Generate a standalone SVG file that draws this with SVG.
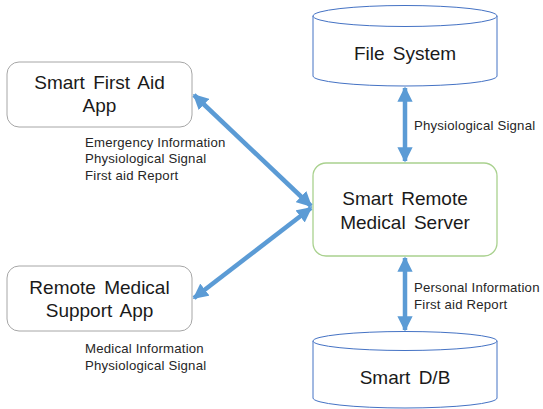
<svg xmlns="http://www.w3.org/2000/svg" width="543" height="409" viewBox="0 0 543 409">
<style>
.box{fill:#fff;stroke:#a6a6a6;stroke-width:1}
.srv{fill:#fff;stroke:#a9d18e;stroke-width:1.3}
.cyl{fill:#fff;stroke:#4472c4;stroke-width:1}
.t{font-family:"Liberation Sans","Noto Sans",sans-serif;font-size:19px;fill:#1a1a1a;text-anchor:middle;word-spacing:3px}
.l{font-family:"Liberation Sans","Noto Sans",sans-serif;font-size:13.2px;fill:#262626;letter-spacing:0.2px}
.c{stroke:#5b9bd5;stroke-width:4.5;fill:none;marker-start:url(#ah);marker-end:url(#ah)}
</style>
<defs>
<marker id="ah" viewBox="0 0 10 10" refX="9" refY="5" markerWidth="3.4" markerHeight="3.4" orient="auto-start-reverse" markerUnits="strokeWidth">
<path d="M0,0 L10,5 L0,10 z" fill="#5b9bd5"/>
</marker>
</defs>
<g id="file-system">
<path class="cyl" d="M313,16 L313,76 A92,10 0 0 0 497,76 L497,16"/>
<ellipse class="cyl" cx="405" cy="16" rx="92" ry="10.5"/>
<text class="t" x="405" y="60">File System</text>
</g>
<g id="smart-db">
<path class="cyl" d="M313,341 L313,398 A92,10 0 0 0 497,398 L497,341"/>
<ellipse class="cyl" cx="405" cy="341" rx="92" ry="9.5"/>
<text class="t" x="405" y="384">Smart D/B</text>
</g>
<g id="server">
<rect class="srv" x="313" y="163" width="184" height="93" rx="13"/>
<text class="t" x="405" y="205">Smart Remote</text>
<text class="t" x="405" y="229">Medical Server</text>
</g>
<g id="first-aid-app">
<rect class="box" x="7" y="62" width="185" height="65" rx="12"/>
<text class="t" x="99.5" y="89">Smart First Aid</text>
<text class="t" x="99.5" y="112">App</text>
</g>
<g id="remote-app">
<rect class="box" x="7" y="266" width="185" height="65" rx="12"/>
<text class="t" x="99.5" y="294">Remote Medical</text>
<text class="t" x="99.5" y="317">Support App</text>
</g>
<g id="connectors">
<line class="c" x1="405" y1="88" x2="405" y2="161"/>
<line class="c" x1="405" y1="258" x2="405" y2="330"/>
<line class="c" x1="194" y1="95" x2="311" y2="206"/>
<line class="c" x1="194" y1="298" x2="311" y2="208"/>
</g>
<g id="labels">
<text class="l" x="85" y="147">Emergency Information</text>
<text class="l" x="85" y="163">Physiological Signal</text>
<text class="l" x="85" y="180">First aid Report</text>
<text class="l" x="85" y="353">Medical Information</text>
<text class="l" x="85" y="370">Physiological Signal</text>
<text class="l" x="414" y="130">Physiological Signal</text>
<text class="l" x="414" y="292">Personal Information</text>
<text class="l" x="414" y="309">First aid Report</text>
</g>
</svg>
